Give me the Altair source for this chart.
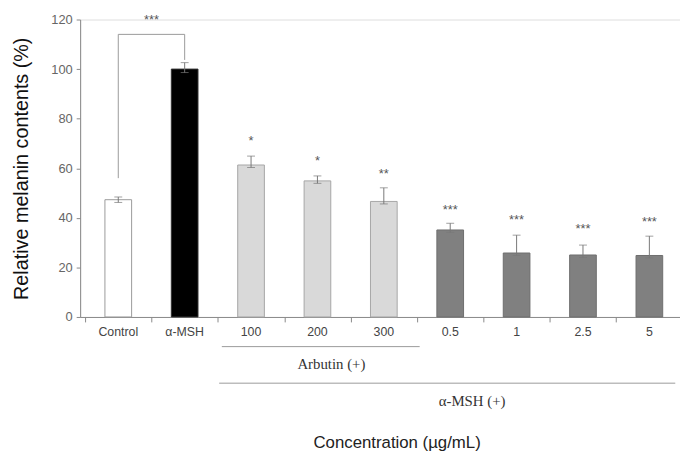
import altair as alt
import pandas as pd

categories = ["Control", "α-MSH", "100", "200", "300", "0.5", "1", "2.5", "5"]
values = [47.3, 100.0, 61.3, 54.9, 46.6, 35.1, 25.8, 25.0, 24.8]
err_up = [1.1, 2.6, 3.6, 2.0, 5.5, 2.7, 7.2, 4.0, 7.8]
err_low = [1.1, 1.4, 1.0, 1.0, 1.0, 1.0, 1.0, 1.0, 1.0]
groups = ["control", "msh", "arbutin", "arbutin", "arbutin", "sample", "sample", "sample", "sample"]
stars = ["", "", "*", "*", "**", "***", "***", "***", "***"]
star_pos = [None, None, 72.0, 64.0, 59.0, 44.4, 40.4, 36.7, 39.5]

group_domain = ["control", "msh", "arbutin", "sample"]
fill_range = ["#ffffff", "#000000", "#d9d9d9", "#808080"]
stroke_range = ["#999999", "#333333", "#a6a6a6", "#6e6e6e"]

# bracket between Control and alpha-MSH
bracket_x = [0, 0, 1]
bracket_x2 = [0, 1, 1]
bracket_y = [56.0, 114.0, 114.0]
bracket_y2 = [114.0, 114.0, 103.7]
bracket_label = "***"
bracket_label_pos = (0.5, 121.0)

# group annotations below the axis (x in category index units)
group_lines_x = [1.56, 1.52]
group_lines_x2 = [4.54, 8.39]
group_labels = ["Arbutin (+)", "α-MSH (+)"]
group_labels_x = [3.21, 5.33]
x_title = "Concentration (µg/mL)"
x_title_pos = 4.2

W, H = 607, 301
xdom = [-0.5, 8.387]

idx = list(range(len(categories)))
df = pd.DataFrame({
    "idx": idx, "cat": categories, "value": values,
    "hi": [v + e for v, e in zip(values, err_up)],
    "lo": [v - e for v, e in zip(values, err_low)],
    "group": groups, "star": stars, "star_y": star_pos,
})

xs = alt.Scale(domain=xdom, nice=False, zero=False)
ys = alt.Scale(domain=[0, 120], nice=False)

base = alt.Chart(df)

bars = base.mark_bar(size=27, strokeWidth=1).encode(
    x=alt.X("idx:Q", scale=xs, axis=alt.Axis(
        values=[i - 0.5 for i in range(9)], labels=False, title=None, grid=False,
        tickSize=5, tickColor="#888888", domainColor="#888888")),
    y=alt.Y("value:Q", scale=ys, axis=alt.Axis(
        values=[0, 20, 40, 60, 80, 100, 120], grid=False, tickSize=4,
        tickColor="#888888", domainColor="#888888", labelColor="#666666",
        labelFontSize=13, labelFont="Liberation Sans", labelPadding=4,
        title="Relative melanin contents (%)", titleFontSize=20,
        titleFontWeight="normal", titleFont="Liberation Sans",
        titleColor="#111111", titlePadding=20)),
    fill=alt.Fill("group:N", scale=alt.Scale(domain=group_domain, range=fill_range), legend=None),
    stroke=alt.Stroke("group:N", scale=alt.Scale(domain=group_domain, range=stroke_range), legend=None),
)

err_rule = base.mark_rule(color="#777777", strokeWidth=1).encode(
    x=alt.X("idx:Q", scale=xs), y=alt.Y("lo:Q", scale=ys), y2="hi:Q")
cap_hi = base.mark_tick(color="#777777", thickness=1, size=8, orient="horizontal").encode(
    x=alt.X("idx:Q", scale=xs), y=alt.Y("hi:Q", scale=ys))
cap_lo = base.mark_tick(color="#777777", thickness=1, size=8, orient="horizontal").encode(
    x=alt.X("idx:Q", scale=xs), y=alt.Y("lo:Q", scale=ys))

star_text = base.transform_filter("datum.star != ''").mark_text(
    fontSize=13, color="#555555", font="Liberation Sans", baseline="alphabetic", dy=7).encode(
    x=alt.X("idx:Q", scale=xs), y=alt.Y("star_y:Q", scale=ys), text="star:N")

cat_text = base.mark_text(fontSize=12.5, color="#444444", font="Liberation Sans",
                          baseline="middle").encode(
    x=alt.X("idx:Q", scale=xs), y=alt.value(H + 15), text="cat:N")

bdf = pd.DataFrame({"x": bracket_x, "x2": bracket_x2, "y": bracket_y, "y2": bracket_y2})
bracket = alt.Chart(bdf).mark_rule(color="#999999", strokeWidth=1).encode(
    x=alt.X("x:Q", scale=xs), x2="x2:Q", y=alt.Y("y:Q", scale=ys), y2="y2:Q")
bl = alt.Chart(pd.DataFrame({"x": [bracket_label_pos[0]], "y": [bracket_label_pos[1]],
                             "t": [bracket_label]})).mark_text(
    fontSize=13, color="#555555", font="Liberation Sans", baseline="alphabetic", dy=7).encode(
    x=alt.X("x:Q", scale=xs), y=alt.Y("y:Q", scale=ys), text="t:N")

gdf = pd.DataFrame({"x": group_lines_x, "x2": group_lines_x2, "lx": group_labels_x,
                    "t": group_labels, "py": [H + 30, H + 67], "ty": [H + 48, H + 85]})
glines = alt.Chart(gdf).mark_rule(color="#999999", strokeWidth=1).encode(
    x=alt.X("x:Q", scale=xs), x2="x2:Q", y=alt.Y("py:Q", scale=None))
glabels = alt.Chart(gdf).mark_text(fontSize=15, color="#333333", font="Liberation Serif",
                                   baseline="middle").encode(
    x=alt.X("lx:Q", scale=xs), y=alt.Y("ty:Q", scale=None), text="t:N")

xt = alt.Chart(pd.DataFrame({"x": [x_title_pos], "t": [x_title]})).mark_text(
    fontSize=17, color="#222222", font="Liberation Sans", baseline="middle").encode(
    x=alt.X("x:Q", scale=xs), y=alt.value(H + 128), text="t:N")

chart = alt.layer(bars, err_rule, cap_hi, cap_lo, star_text, bracket, bl,
                  cat_text, glines, glabels, xt).properties(
    width=W, height=H,
    autosize=alt.AutoSizeParams(type="none"),
    padding={"left": 73, "top": 9, "right": 0, "bottom": 134},
).configure_view(stroke=None).configure(background="white")

chart.save("out.html", embed_options={"renderer": "svg", "actions": False})
